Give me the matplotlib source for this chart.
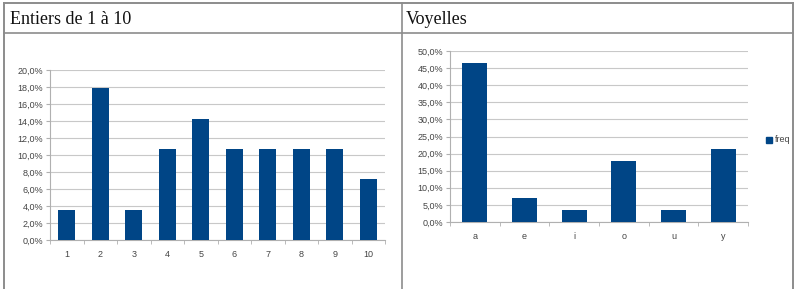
import numpy as np
import matplotlib
matplotlib.use('Agg')
import matplotlib.pyplot as plt
from matplotlib.lines import Line2D
from matplotlib.ticker import FuncFormatter, FixedLocator

# données
entiers = ['1', '2', '3', '4', '5', '6', '7', '8', '9', '10']
freq_entiers = [3.57, 17.86, 3.57, 10.71, 14.29, 10.71, 10.71, 10.71, 10.71, 7.14]
voyelles = ['a', 'e', 'i', 'o', 'u', 'y']
freq_voyelles = [46.43, 7.14, 3.57, 17.86, 3.57, 21.43]
titres = ['Entiers de 1 à 10', 'Voyelles']

W, H = 797, 289
bleu = '#004586'
plt.rcParams['font.family'] = ['Liberation Sans', 'DejaVu Sans']

fig = plt.figure(figsize=(W / 100, H / 100), dpi=100)
fig.patch.set_facecolor('white')


def px(x, y):
    return x / W, 1 - y / H


def trait(x0, y0, x1, y1, c='#8c8c8c', lw=1.0):
    (a, b), (c2, d) = px(x0, y0), px(x1, y1)
    fig.add_artist(Line2D([a, c2], [b, d], color=c, lw=lw))


# cadre du tableau
trait(4, 3, 793, 3, lw=1.4)
trait(4, 3, 4, 289, lw=1.4)
trait(793, 3, 793, 289, lw=1.4)
trait(402, 3, 402, 289, lw=1.2)
trait(4, 33, 793, 33, lw=1.2)

fig.text(*px(10, 19), titres[0], family=['Liberation Serif', 'DejaVu Serif'],
         fontsize=13, va='center', ha='left', color='#111111')
fig.text(*px(406, 19), titres[1], family=['Liberation Serif', 'DejaVu Serif'],
         fontsize=13, va='center', ha='left', color='#111111')


def graphique(rect, cats, vals, ymax, pas):
    ax = fig.add_axes(rect)
    x = np.arange(len(cats))
    ax.bar(x, vals, width=0.5, color=bleu, zorder=3)
    ax.set_xlim(-0.5, len(cats) - 0.5)
    ax.set_ylim(0, ymax)
    ax.yaxis.set_major_locator(FixedLocator(np.arange(0, ymax + pas / 2, pas)))
    ax.yaxis.set_major_formatter(FuncFormatter(lambda v, p: ('%.1f%%' % v).replace('.', ',')))
    ax.set_xticks(x)
    ax.set_xticklabels(cats)
    ax.set_xticks(np.arange(-0.5, len(cats)), minor=True)
    ax.tick_params(axis='x', which='major', length=0, labelsize=6.5, colors='#444444', pad=7)
    ax.tick_params(axis='x', which='minor', length=3, color='#b0b0b0')
    ax.tick_params(axis='y', length=3, labelsize=6.5, colors='#444444', color='#b0b0b0', pad=2)
    ax.grid(axis='y', color='#c8c8c8', lw=0.8, zorder=0)
    for s in ['top', 'right']:
        ax.spines[s].set_visible(False)
    for s in ['left', 'bottom']:
        ax.spines[s].set_color('#b0b0b0')
        ax.spines[s].set_linewidth(0.8)
    return ax


graphique([50 / W, 1 - 240 / H, 335 / W, 170 / H], entiers, freq_entiers, 20, 2)
graphique([450 / W, 1 - 222 / H, 298 / W, 171 / H], voyelles, freq_voyelles, 50, 5)

# légende
fig.add_artist(Line2D([769 / W], [1 - 140 / H], marker='s', ms=4, color=bleu, lw=0))
fig.text(*px(775, 140), 'freq', fontsize=6.5, va='center', ha='left', color='#444444')

fig.savefig('out.png', dpi=100, facecolor='white')
